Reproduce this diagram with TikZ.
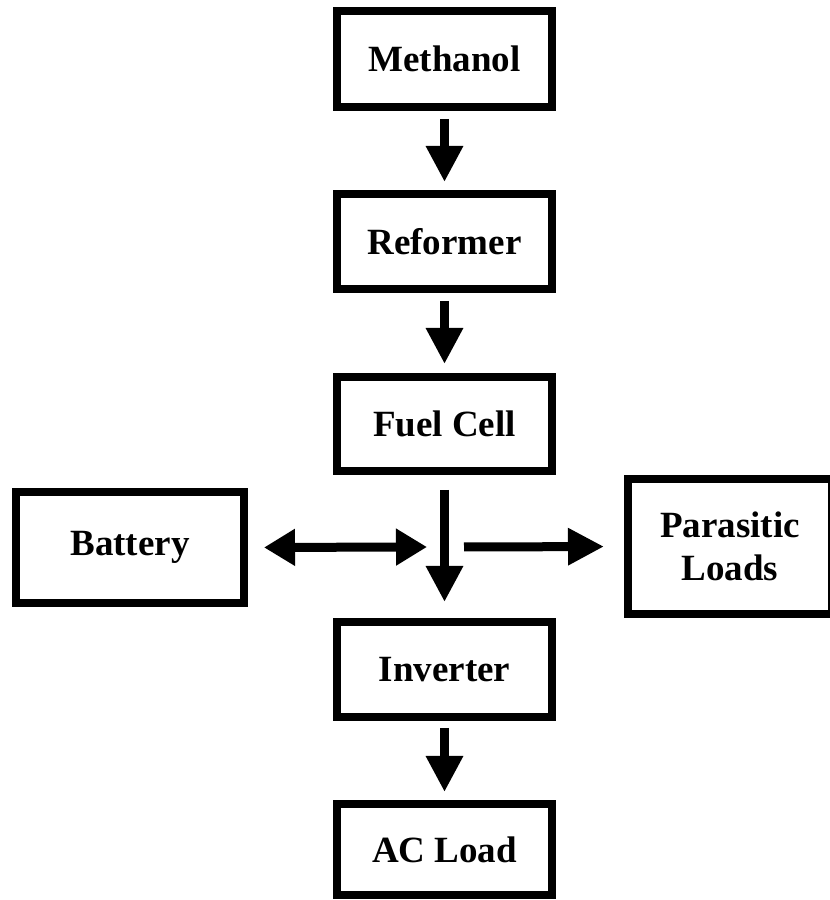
\documentclass[tikz,border=0pt]{standalone}
\usepackage{fontspec}
\setmainfont{Liberation Serif}
\usetikzlibrary{arrows.meta}
\tikzset{
  blk/.style={draw=black, line width=8pt, fill=white, inner sep=0pt, align=center,
    font=\bfseries\fontsize{37}{43}\selectfont},
  flow/.style={line width=9pt, -{Triangle[length=36pt,width=35pt]}},
  flowboth/.style={line width=9pt, {Triangle[length=31pt,width=35pt]}-{Triangle[length=31pt,width=35pt]}}
}
\begin{document}
\begin{tikzpicture}[x=1pt,y=1pt]
\useasboundingbox (0,0) rectangle (830,900);
\node[blk, minimum width=215pt, minimum height=96pt] (m) at (444.5,841) {Methanol};
\node[blk, minimum width=215pt, minimum height=95pt] (r) at (444.5,658.5) {Reformer};
\node[blk, minimum width=215pt, minimum height=94pt] (f) at (444.5,476) {Fuel Cell};
\node[blk, minimum width=215pt, minimum height=95pt] (i) at (444.5,230.5) {Inverter};
\node[blk, minimum width=215pt, minimum height=91pt] (a) at (444.5,50.5) {AC Load};
\node[blk, minimum width=228pt, minimum height=111pt] (b) at (130,352.5) {Battery};
\node[blk, minimum width=204pt, minimum height=135pt] (p) at (730,353.5) {Parasitic\\Loads};
\coordinate (j1) at (427,353);
\coordinate (j2) at (464,353);
\draw[flow, shorten <=8pt, shorten >=8pt] (m.south) -- (r.north);
\draw[flow, shorten <=8pt, shorten >=9pt] (r.south) -- (f.north);
\draw[flow, shorten <=15pt, shorten >=16pt] (f.south) -- (i.north);
\draw[flow, shorten <=7pt, shorten >=8pt] (i.south) -- (a.north);
\draw[flowboth, shorten <=16pt] (b.east) -- (j1);
\draw[flow, shorten >=20pt] (j2) -- (p.west);
\end{tikzpicture}
\end{document}
